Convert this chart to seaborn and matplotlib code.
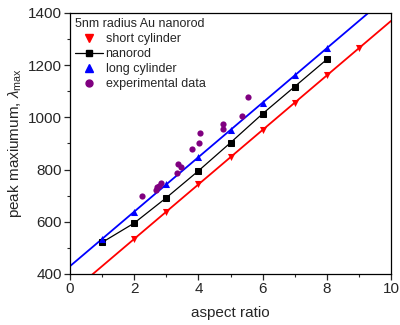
import numpy as np
import pandas as pd
import matplotlib
matplotlib.use("Agg")
import matplotlib.pyplot as plt
import seaborn as sns
from matplotlib.lines import Line2D

# data
short_x = [2, 3, 4, 5, 6, 7, 8, 9]
short_y = [534, 639, 743, 848, 952, 1056, 1161, 1265]
rod_x = [1, 2, 3, 4, 5, 6, 7, 8]
rod_y = [521, 595, 692, 795, 903, 1014, 1118, 1222]
long_x = [1, 2, 3, 4, 5, 6, 7, 8]
long_y = [534, 639, 743, 848, 952, 1056, 1161, 1265]
exp_x = [2.23, 2.69, 2.72, 2.76, 2.84, 3.32, 3.35, 3.45, 3.80, 4.03, 4.05, 4.76, 4.76, 5.35, 5.53]
exp_y = [698, 722, 732, 737, 747, 786, 821, 809, 880, 901, 939, 975, 956, 1005, 1079]

xticks = [0, 2, 4, 6, 8, 10]
yticks = [400, 600, 800, 1000, 1200, 1400]

sns.set_style("ticks")
plt.rcParams['font.family'] = ['Liberation Sans', 'DejaVu Sans']
plt.rcParams['mathtext.fontset'] = 'custom'
plt.rcParams['mathtext.rm'] = 'Liberation Sans'
plt.rcParams['mathtext.it'] = 'Liberation Sans:italic'

fig = plt.figure(figsize=(4.0, 3.25), dpi=100)
ax = fig.add_axes([0.175, 0.157, 0.8025, 0.803])

# fit lines through the model points
xl = np.linspace(0, 10, 50)
for xs, ys, col in [(short_x, short_y, 'red'), (long_x, long_y, 'blue')]:
    p = np.polyfit(xs, ys, 1)
    sns.lineplot(x=xl, y=np.polyval(p, xl), color=col, lw=1.3, ax=ax, zorder=2)

sns.lineplot(x=rod_x, y=rod_y, color='black', lw=0.9, marker='s', markersize=4.5,
             markeredgecolor='black', ax=ax, zorder=3)
sns.scatterplot(x=short_x, y=short_y, color='red', marker='v', s=26, edgecolor='red',
                linewidth=0, ax=ax, zorder=4)
sns.scatterplot(x=long_x, y=long_y, color='blue', marker='^', s=26, edgecolor='blue',
                linewidth=0, ax=ax, zorder=4)
sns.scatterplot(x=exp_x, y=exp_y, color='#800080', marker='o', s=20, edgecolor='#800080',
                linewidth=0, ax=ax, zorder=4)

ax.set_xlim(0, 10)
ax.set_ylim(400, 1400)
ax.set_xticks(xticks)
ax.set_yticks(yticks)
ax.set_xticks(np.arange(1, 10, 2), minor=True)
ax.set_yticks(np.arange(500, 1400, 200), minor=True)
ax.tick_params(which='major', direction='out', length=4, width=0.9, labelsize=11, pad=2)
ax.tick_params(which='minor', direction='out', length=2.5, width=0.8)
for s in ax.spines.values():
    s.set_linewidth(0.9)
    s.set_color('black')

ax.set_xlabel('aspect ratio', fontsize=11, labelpad=7)
ax.set_ylabel(r'peak maxiumum, $\lambda_{\mathrm{max}}$', fontsize=11, labelpad=3)

handles = [
    Line2D([], [], color='red', marker='v', ls='none', markersize=6),
    Line2D([], [], color='black', marker='s', ls='-', lw=0.9, markersize=4.5),
    Line2D([], [], color='blue', marker='^', ls='none', markersize=6),
    Line2D([], [], color='#800080', marker='o', ls='none', markersize=5),
]
labels = ['short cylinder', 'nanorod', 'long cylinder', 'experimental data']
leg = ax.legend(handles, labels, title='5nm radius Au nanorod', loc='upper left',
                frameon=False, fontsize=9, title_fontsize=9, alignment='left',
                borderaxespad=0.2, handlelength=2.2, handletextpad=0.25,
                labelspacing=0.25, borderpad=0.2)

fig.savefig('out.png', dpi=100)
